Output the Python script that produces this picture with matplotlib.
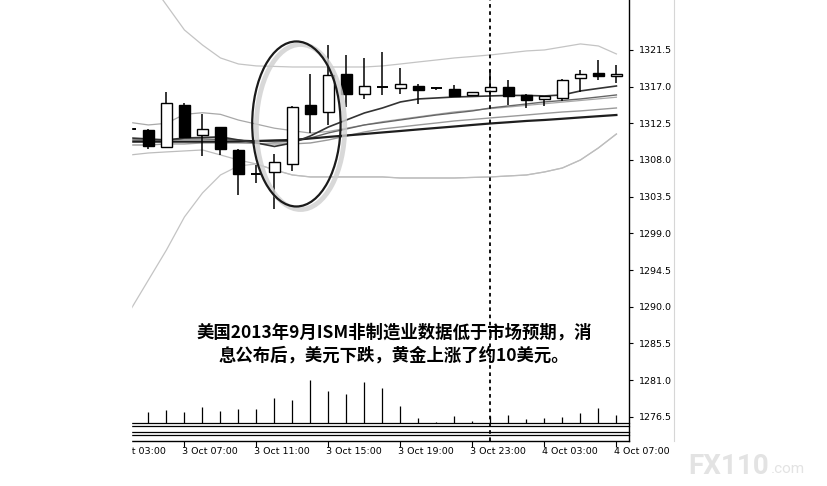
import matplotlib.pyplot as plt
from matplotlib.patches import Ellipse, Rectangle
from matplotlib.lines import Line2D

plt.rcParams['font.family'] = ['DejaVu Sans']

# hourly bars, index 0 = 3 Oct 04:00, index 20 = 4 Oct 00:00
hours = list(range(28))
opens = [1311.8, 1311.7, 1309.6, 1314.8, 1311.1, 1312.0, 1309.2, 1306.3, 1306.5, 1307.5,
         1314.8, 1313.9, 1318.5, 1316.1, 1317.0, 1316.8, 1317.1, 1316.8, 1316.7, 1316.0,
         1316.5, 1317.0, 1316.0, 1315.45, 1315.65, 1318.0, 1318.7, 1318.35]
highs = [1312.0, 1311.8, 1316.3, 1315.0, 1313.6, 1312.1, 1309.4, 1307.4, 1308.7, 1314.6,
         1318.6, 1322.1, 1320.9, 1320.5, 1321.3, 1319.3, 1317.3, 1317.0, 1317.2, 1316.4,
         1319.0, 1317.8, 1316.1, 1315.9, 1317.9, 1319.05, 1320.3, 1319.7]
lows = [1311.6, 1309.4, 1309.5, 1310.7, 1308.5, 1308.6, 1303.7, 1305.2, 1302.0, 1306.6,
        1311.3, 1312.3, 1314.5, 1315.5, 1316.0, 1316.1, 1314.9, 1316.6, 1315.8, 1315.9,
        1315.6, 1314.8, 1314.4, 1314.6, 1315.2, 1316.4, 1317.8, 1317.4]
closes = [1311.75, 1309.7, 1315.0, 1310.8, 1311.8, 1309.3, 1306.3, 1306.3, 1307.7, 1314.5,
          1313.7, 1318.4, 1316.1, 1317.1, 1317.0, 1317.3, 1316.6, 1316.8, 1315.9, 1316.3,
          1316.9, 1315.9, 1315.3, 1315.8, 1317.8, 1318.5, 1318.35, 1318.6]
volumes = [560, 535, 635, 535, 800, 600, 700, 700, 1265, 1135, 2135, 1585, 1465, 2035,
           1750, 865, 250, 50, 365, 115, 335, 415, 200, 250, 300, 500, 750, 415]

# indicator lines
ma_fast = [1310.70, 1310.58, 1310.46, 1310.70, 1310.76, 1310.83, 1310.46, 1310.09, 1309.66, 1310.09,
           1310.95, 1312.05, 1312.91, 1313.77, 1314.38, 1315.12, 1315.49, 1315.61, 1315.73, 1315.79,
           1315.86, 1315.92, 1315.92, 1315.86, 1315.98, 1316.47, 1316.78, 1317.08]
ma_mid = [1310.46, 1310.46, 1310.46, 1310.58, 1310.58, 1310.52, 1310.46, 1310.33, 1310.21, 1310.27,
          1310.70, 1311.32, 1311.81, 1312.30, 1312.60, 1312.91, 1313.22, 1313.52, 1313.77, 1314.02,
          1314.38, 1314.63, 1314.87, 1315.12, 1315.30, 1315.49, 1315.73, 1315.98]
ma_light = [1309.84, 1309.84, 1309.97, 1309.97, 1310.09, 1310.09, 1310.09, 1310.03, 1309.97, 1309.97,
            1310.09, 1310.46, 1310.95, 1311.44, 1311.81, 1312.05, 1312.30, 1312.54, 1312.79, 1312.97,
            1313.16, 1313.34, 1313.52, 1313.71, 1313.89, 1314.02, 1314.20, 1314.38]
ma_slow = [1310.25, 1310.25, 1310.25, 1310.25, 1310.25, 1310.25, 1310.27, 1310.33, 1310.40, 1310.46,
           1310.64, 1310.83, 1311.01, 1311.19, 1311.38, 1311.56, 1311.75, 1311.93, 1312.11, 1312.30,
           1312.48, 1312.63, 1312.79, 1312.91, 1313.06, 1313.22, 1313.37, 1313.52]
bb_upper = [1333.16, 1330.09, 1327.02, 1323.95, 1322.11, 1320.52, 1319.78, 1319.54, 1319.48, 1319.41,
            1319.41, 1319.41, 1319.41, 1319.41, 1319.54, 1319.78, 1320.03, 1320.27, 1320.52, 1320.70,
            1320.89, 1321.13, 1321.38, 1321.50, 1321.87, 1322.24, 1321.99, 1321.01]
bb_lower = [1289.60, 1293.28, 1296.96, 1301.01, 1303.95, 1306.16, 1307.27, 1307.51, 1306.78, 1306.16,
            1305.92, 1305.92, 1305.92, 1305.92, 1305.92, 1305.79, 1305.79, 1305.79, 1305.79, 1305.86,
            1305.92, 1306.04, 1306.16, 1306.53, 1307.02, 1308.00, 1309.48, 1311.19]
env_upper = [1312.6, 1312.3, 1312.5, 1313.6, 1313.8, 1313.6, 1312.9, 1312.4, 1311.9, 1311.6,
             1311.3, 1311.5, 1311.9, 1312.3, 1312.7, 1313.0, 1313.3, 1313.6, 1313.9, 1314.1,
             1314.3, 1314.5, 1314.7, 1314.9, 1315.1, 1315.3, 1315.5, 1315.7]
env_lower = [1308.62, 1308.86, 1308.99, 1309.11, 1309.23, 1308.62, 1308.0, 1307.51, 1306.78, 1306.16,
             1305.92, 1305.92, 1305.92, 1305.92, 1305.92, 1305.79, 1305.79, 1305.79, 1305.79, 1305.86,
             1305.92, 1306.04, 1306.16, 1306.53, 1307.02, 1308.00, 1309.48, 1311.19]

tick_hours = [-1, 3, 7, 11, 15, 19, 23, 27]
tick_labels = ['3 Oct 03:00', '3 Oct 07:00', '3 Oct 11:00', '3 Oct 15:00',
               '3 Oct 19:00', '3 Oct 23:00', '4 Oct 03:00', '4 Oct 07:00']
price_ticks = [1276.5, 1281.0, 1285.5, 1290.0, 1294.5, 1299.0,
               1303.5, 1308.0, 1312.5, 1317.0, 1321.5]
separator_hour = 20

note = '美国2013年9月ISM非制造业数据低于市场预期，消\n息公布后，美元下跌，黄金上涨了约10美元。'

fig = plt.figure(figsize=(8.27, 4.86), dpi=100)
ax = fig.add_axes([131 / 827, 45 / 486, 498 / 827, 441 / 486])

# volumes on their own scale (twinx first, it moves the main ticks to the left)
vax = ax.twinx()
vax.vlines(hours, 0, volumes, color='black', lw=0.9)
vax.set_ylim(-900, 21150)
vax.set_axis_off()

# indicator lines under the candles
ax.plot(hours, bb_upper, color='#c4c4c4', lw=0.9, zorder=1)
ax.plot(hours, bb_lower, color='#c4c4c4', lw=0.9, zorder=1)
ax.plot(hours, env_upper, color='#a8a8a8', lw=0.9, zorder=1)
ax.plot(hours, env_lower, color='#bdbdbd', lw=0.9, zorder=1)
ax.plot(hours, ma_light, color='#9a9a9a', lw=1.0, zorder=2)
ax.plot(hours, ma_mid, color='#666666', lw=1.0, zorder=2)
ax.plot(hours, ma_slow, color='#1e1e1e', lw=1.6, zorder=2)
ax.plot(hours, ma_fast, color='#333333', lw=1.2, zorder=2)

# candles
body_w = 0.62
for h, o, hi, lo, c in zip(hours, opens, highs, lows, closes):
    ax.vlines(h, lo, hi, color='black', lw=1.1, zorder=3)
    if abs(c - o) < 0.06:
        ax.hlines(o, h - body_w / 2, h + body_w / 2, color='black', lw=1.4, zorder=4)
        continue
    face = 'black' if c < o else 'white'
    ax.bar(h, abs(c - o), body_w, min(o, c), color=face, edgecolor='black', lw=1.0, zorder=4)

# circle round the jump, with its soft shadow
ax.add_patch(Ellipse((9.45, 1312.05), 4.91, 20.25, fill=False, ec='#cfcfcf', lw=3.5, alpha=0.8, zorder=5))
ax.add_patch(Ellipse((9.22, 1312.42), 4.91, 20.25, fill=False, ec='#1a1a1a', lw=1.6, zorder=6))

# day separator
ax.axvline(separator_hour, color='black', lw=1.3, ls=(0, (2, 2)), zorder=7)

ax.set_xlim(0.03, 27.7)
ax.set_ylim(1273.52, 1327.63)

for s in ['left', 'top']:
    ax.spines[s].set_visible(False)
ax.spines['right'].set_linewidth(1.0)
ax.spines['bottom'].set_linewidth(1.0)

ax.yaxis.tick_right()
ax.yaxis.set_label_position('right')
ax.set_yticks(price_ticks)
ax.set_yticklabels(['%.1f' % p for p in price_ticks])
ax.tick_params(axis='y', which='both', left=False, labelleft=False, right=True, labelright=True,
               length=3, pad=4, labelsize=6.8, width=0.8)
ax.set_xticks(tick_hours[1:])
ax.set_xticklabels([])
ax.tick_params(axis='x', length=4, width=0.8)

for h, lab in zip(tick_hours, tick_labels):
    ax.text(h - 0.12, -0.013, lab, transform=ax.get_xaxis_transform(),
            ha='left', va='top', fontsize=6.8, clip_on=False)

# squashed indicator windows at the bottom
for f in [0.0408, 0.0351, 0.0204, 0.0147]:
    ax.plot([0, 1], [f, f], transform=ax.transAxes, color='black', lw=0.9, clip_on=False, zorder=6)

ax.text(0.528, 0.22, note, transform=ax.transAxes, ha='center', va='center',
        fontsize=12.5, fontweight='bold', linespacing=1.3,
        family=['Noto Sans CJK SC', 'DejaVu Sans'], zorder=8)

# cropped left edge and faint window border right of the price scale
fig.add_artist(Rectangle((0, 0), 131 / 827, 1, transform=fig.transFigure,
                         color='white', zorder=10))
fig.add_artist(Line2D([674 / 827, 674 / 827], [45 / 486, 1], transform=fig.transFigure,
                      color='#d6d6d6', lw=0.8))

fig.text(688 / 827, 1 - 466 / 486, 'FX110', fontsize=20, fontweight='bold',
         color='#e3e3e3', va='center', family='Roboto')
fig.text(771 / 827, 1 - 469 / 486, '.com', fontsize=11,
         color='#e3e3e3', va='center', family='Roboto')

fig.savefig('out.png', dpi=100)
